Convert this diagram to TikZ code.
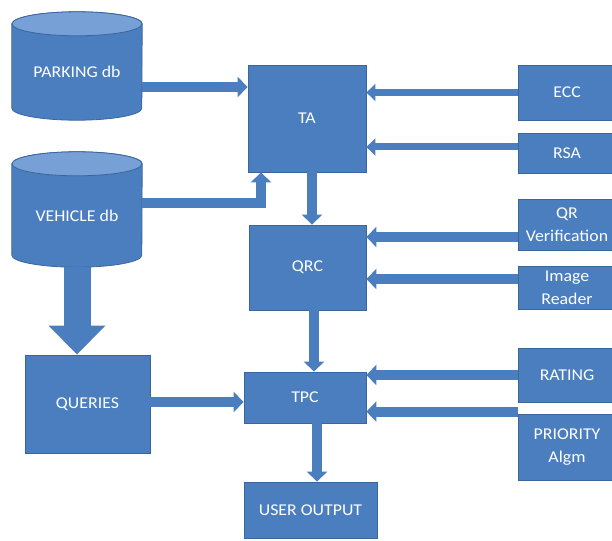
\documentclass[tikz,border=0pt]{standalone}
\usepackage{fontspec}
\setmainfont{Carlito}[FakeStretch=1.08]
\usetikzlibrary{arrows.meta,backgrounds}
\definecolor{boxblue}{HTML}{4A7EBE}
\definecolor{boxedge}{HTML}{3A669E}
\definecolor{dbtop}{HTML}{76A0D6}
\begin{document}
\begin{tikzpicture}[x=1pt,y=-1pt,
  label font/.style={text=white, font=\fontsize{16.5}{23}\selectfont, align=center},
  box/.style={label font, draw=boxedge, line width=0.8pt, fill=boxblue, inner sep=0pt},
  dbnode/.style={label font, inner sep=0pt, minimum width=130pt},
  dbbody/.style={fill=boxblue, draw=boxedge, line width=0.8pt},
  dbcap/.style={fill=dbtop, draw=boxedge, line width=0.8pt},
  flow/.style={draw=boxblue, line width=10pt, -{Triangle[width=20pt,length=10pt]}},
  thinflow/.style={draw=boxblue, line width=7pt, -{Triangle[width=17pt,length=9pt]}},
  bigflow/.style={draw=boxblue, line width=27pt, -{Triangle[width=55pt,length=29pt]}}
]
\useasboundingbox (0,0) rectangle (612,540);

% databases (cylinder bodies are drawn on the background layer)
\node[dbnode, minimum height=96pt] (park) at (77,72) {PARKING db};
\node[dbnode, minimum height=103pt] (veh) at (77,215.5) {VEHICLE db};

% processing blocks
\node[box, minimum width=118pt, minimum height=107pt] (ta) at (307,118.5) {TA};
\node[box, minimum width=117pt, minimum height=85pt] (qrc) at (307.5,267.5) {QRC};
\node[box, minimum width=122pt, minimum height=51pt] (tpc) at (305,397.5) {TPC};
\node[box, minimum width=133pt, minimum height=56pt] (out) at (310.5,510) {USER OUTPUT};
\node[box, minimum width=125pt, minimum height=98pt] (qry) at (87.5,404) {QUERIES};

% inputs on the right
\node[box, minimum width=98pt, minimum height=55pt] (ecc) at (567,92.5) {ECC};
\node[box, minimum width=98pt, minimum height=40pt] (rsa) at (567,153) {RSA};
\node[box, minimum width=98pt, minimum height=51pt] (qrv) at (567,224.5) {QR\\Verification};
\node[box, minimum width=98pt, minimum height=43pt] (img) at (567,287.5) {Image\\Reader};
\node[box, minimum width=98pt, minimum height=54pt] (rat) at (567,375) {RATING};
\node[box, minimum width=98pt, minimum height=66pt] (pri) at (567,447) {PRIORITY\\Algm};

\begin{scope}[on background layer]
  \foreach \db in {park,veh}{
    \path[dbbody] (\db.north west) -- ([yshift=12pt]\db.south west)
      arc[start angle=180, end angle=360, x radius=65pt, y radius=12pt]
      -- (\db.north east)
      arc[start angle=0, end angle=180, x radius=65pt, y radius=12pt] -- cycle;
    \path[dbcap] (\db.north) ellipse[x radius=65pt, y radius=12pt];
  }
\end{scope}

% connectors
\draw[flow] ([yshift=-15pt]park.east) coordinate (p1) -- (p1 -| ta.west);
\draw[flow] ([yshift=12.5pt]veh.east) -| ([xshift=-46pt]ta.south);
\draw[thinflow] (ecc.west) -- (ecc.west -| ta.east);
\draw[thinflow] ([yshift=6pt]rsa.west) coordinate (r1) -- (r1 -| ta.east);
\draw[flow] ([xshift=5pt]ta.south) coordinate (t1) -- (t1 |- qrc.north);
\draw[flow] ([yshift=-12.5pt]qrv.west) coordinate (q1) -- (q1 -| qrc.east);
\draw[flow] ([yshift=8.5pt]img.west) coordinate (i1) -- (i1 -| qrc.east);
\draw[flow] ([xshift=6.5pt]qrc.south) coordinate (c1) -- (c1 |- tpc.north);
\draw[flow] (rat.west) -- (rat.west -| tpc.east);
\draw[flow] ([yshift=2pt]pri.north west) coordinate (a1) -- (a1 -| tpc.east);
\draw[flow] ([xshift=12pt]tpc.south) coordinate (s1) -- (s1 |- out.north);
\draw[flow] ([yshift=2pt]qry.east) coordinate (u1) -- (u1 -| tpc.west);
\draw[bigflow] (veh.south) -- (veh.south |- qry.north);
\end{tikzpicture}
\end{document}
